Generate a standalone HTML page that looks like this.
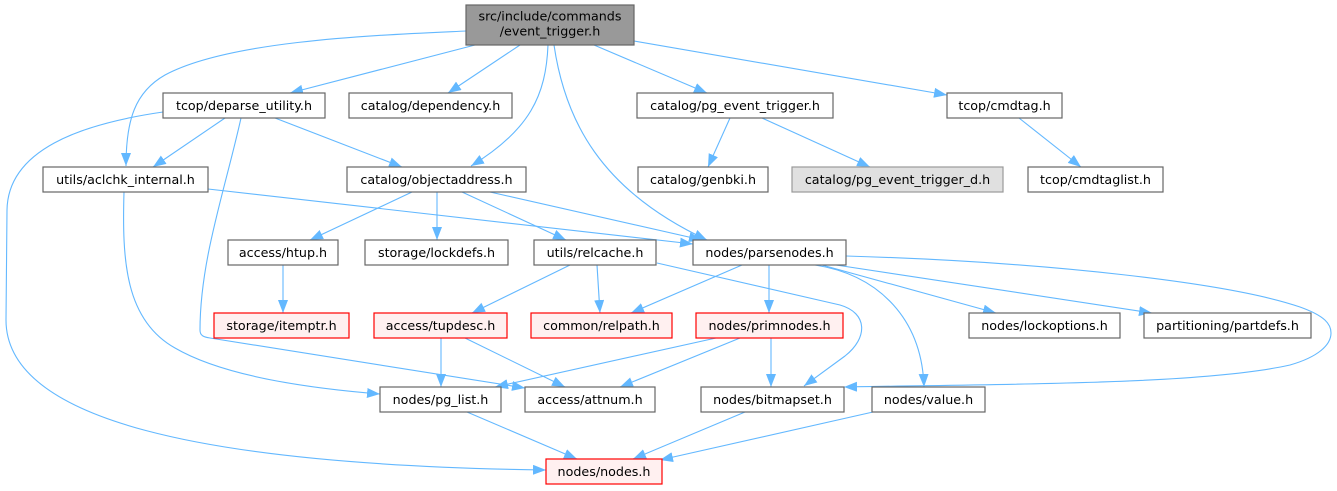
<!DOCTYPE html>
<html><head><meta charset="utf-8"><style>
html,body{margin:0;padding:0;background:#fff;}
svg{display:block;}
text{font-family:"DejaVu Sans","Liberation Sans",sans-serif;font-size:12.7px;fill:#000;text-anchor:middle;}
.n{fill:#fff;stroke:#666;stroke-width:1.2;}
.r{fill:#fff0f0;stroke:#ff0000;stroke-width:1.2;}
.g{fill:#e0e0e0;stroke:#999;stroke-width:1.2;}
.m{fill:#999;stroke:#666;stroke-width:1.2;}
.e{fill:none;stroke:#63b8ff;stroke-width:1.1;marker-end:url(#a);}
</style></head><body>
<svg width="1337" height="491" viewBox="0 0 1337 491" xmlns="http://www.w3.org/2000/svg">
<defs><marker id="a" markerUnits="userSpaceOnUse" markerWidth="14" markerHeight="11" refX="13" refY="5" orient="auto"><path d="M0,0 L13,5 L0,10 z" fill="#63b8ff"/></marker></defs>
<!-- edges -->
<path class="e" d="M466,31 C380,35 230,40 165,75 C135,92 126,120 126,166"/>
<path class="e" d="M475,45 L290,93"/>
<path class="e" d="M520,45 L448,93"/>
<path class="e" d="M548,45 C546,95 530,130 471,166"/>
<path class="e" d="M554,45 C565,120 600,190 707,240"/>
<path class="e" d="M594,45 L707,93"/>
<path class="e" d="M634,41 L947,95"/>
<path class="e" d="M163,112 C80,124 8,150 7,210 L6,320 C6,420 200,465 546,470"/>
<path class="e" d="M225,118 L153,167"/>
<path class="e" d="M275,118 L402,167"/>
<path class="e" d="M241,118 C225,190 200,260 200,330 C200,336 204,337 210,338 L525,388"/>
<path class="e" d="M208,189 L693,244"/>
<path class="e" d="M124,192 C122,260 125,320 175,348 C230,380 330,390 380,394"/>
<path class="e" d="M412,192 L310,240"/>
<path class="e" d="M437,192 L437,240"/>
<path class="e" d="M462,192 L566,240"/>
<path class="e" d="M490,192 L702,240"/>
<path class="e" d="M283,265 L283,313"/>
<path class="e" d="M570,265 L472,313"/>
<path class="e" d="M597,265 L600,313"/>
<path class="e" d="M657,263 L840,305 C868,313 868,338 845,356 L804,386"/>
<path class="e" d="M742,265 L631,313"/>
<path class="e" d="M769,265 L769,313"/>
<path class="e" d="M815,265 C880,275 922,320 924,387"/>
<path class="e" d="M822,265 L996,313"/>
<path class="e" d="M836,265 L1152,313"/>
<path class="e" d="M846,256 C1050,262 1230,283 1300,307 C1325,316 1331,324 1331,333 C1331,345 1318,357 1290,365 C1200,385 1000,384 844,387"/>
<path class="e" d="M716,338 L495,387"/>
<path class="e" d="M740,338 L620,387"/>
<path class="e" d="M771,338 L771,387"/>
<path class="e" d="M441,338 L441,387"/>
<path class="e" d="M465,338 L565,387"/>
<path class="e" d="M467,412 L577,459"/>
<path class="e" d="M745,412 L633,459"/>
<path class="e" d="M873,412 L660,460"/>
<path class="e" d="M730,118 L708,167"/>
<path class="e" d="M762,118 L870,167"/>
<path class="e" d="M1019,118 L1081,167"/>
<!-- nodes -->
<rect class="m" x="466" y="5" width="168" height="40"/>
<text x="550" y="20.5">src/include/commands</text>
<text x="550" y="35.5">/event_trigger.h</text>

<rect class="n" x="163" y="93" width="162" height="25"/><text x="244" y="110">tcop/deparse_utility.h</text>
<rect class="n" x="349" y="93" width="163" height="25"/><text x="430.5" y="110">catalog/dependency.h</text>
<rect class="n" x="637" y="93" width="196" height="25"/><text x="735" y="110">catalog/pg_event_trigger.h</text>
<rect class="n" x="947" y="93" width="115" height="25"/><text x="1004.5" y="110">tcop/cmdtag.h</text>

<rect class="n" x="43" y="167" width="165" height="25"/><text x="125.5" y="184">utils/aclchk_internal.h</text>
<rect class="n" x="347" y="167" width="179" height="25"/><text x="436.5" y="184">catalog/objectaddress.h</text>
<rect class="n" x="638" y="167" width="130" height="25"/><text x="703" y="184">catalog/genbki.h</text>
<rect class="g" x="792" y="167" width="211" height="25"/><text x="897.5" y="184">catalog/pg_event_trigger_d.h</text>
<rect class="n" x="1028" y="167" width="135" height="25"/><text x="1095.5" y="184">tcop/cmdtaglist.h</text>

<rect class="n" x="228" y="240" width="110" height="25"/><text x="283" y="257">access/htup.h</text>
<rect class="n" x="365" y="240" width="143" height="25"/><text x="436.5" y="257">storage/lockdefs.h</text>
<rect class="n" x="534" y="240" width="122" height="25"/><text x="595" y="257">utils/relcache.h</text>
<rect class="n" x="693" y="240" width="153" height="25"/><text x="769.5" y="257">nodes/parsenodes.h</text>

<rect class="r" x="214" y="313" width="135" height="25"/><text x="281.5" y="330">storage/itemptr.h</text>
<rect class="r" x="374" y="313" width="133" height="25"/><text x="440.5" y="330">access/tupdesc.h</text>
<rect class="r" x="531" y="313" width="141" height="25"/><text x="601.5" y="330">common/relpath.h</text>
<rect class="r" x="696" y="313" width="147" height="25"/><text x="769.5" y="330">nodes/primnodes.h</text>
<rect class="n" x="969" y="313" width="151" height="25"/><text x="1044.5" y="330">nodes/lockoptions.h</text>
<rect class="n" x="1144" y="313" width="167" height="25"/><text x="1227.5" y="330">partitioning/partdefs.h</text>

<rect class="n" x="380" y="387" width="121" height="25"/><text x="440.5" y="404">nodes/pg_list.h</text>
<rect class="n" x="525" y="387" width="130" height="25"/><text x="590" y="404">access/attnum.h</text>
<rect class="n" x="701" y="387" width="143" height="25"/><text x="772.5" y="404">nodes/bitmapset.h</text>
<rect class="n" x="872" y="387" width="113" height="25"/><text x="928.5" y="404">nodes/value.h</text>

<rect class="r" x="546" y="459" width="116" height="25"/><text x="604" y="476">nodes/nodes.h</text>
</svg>
</body></html>
